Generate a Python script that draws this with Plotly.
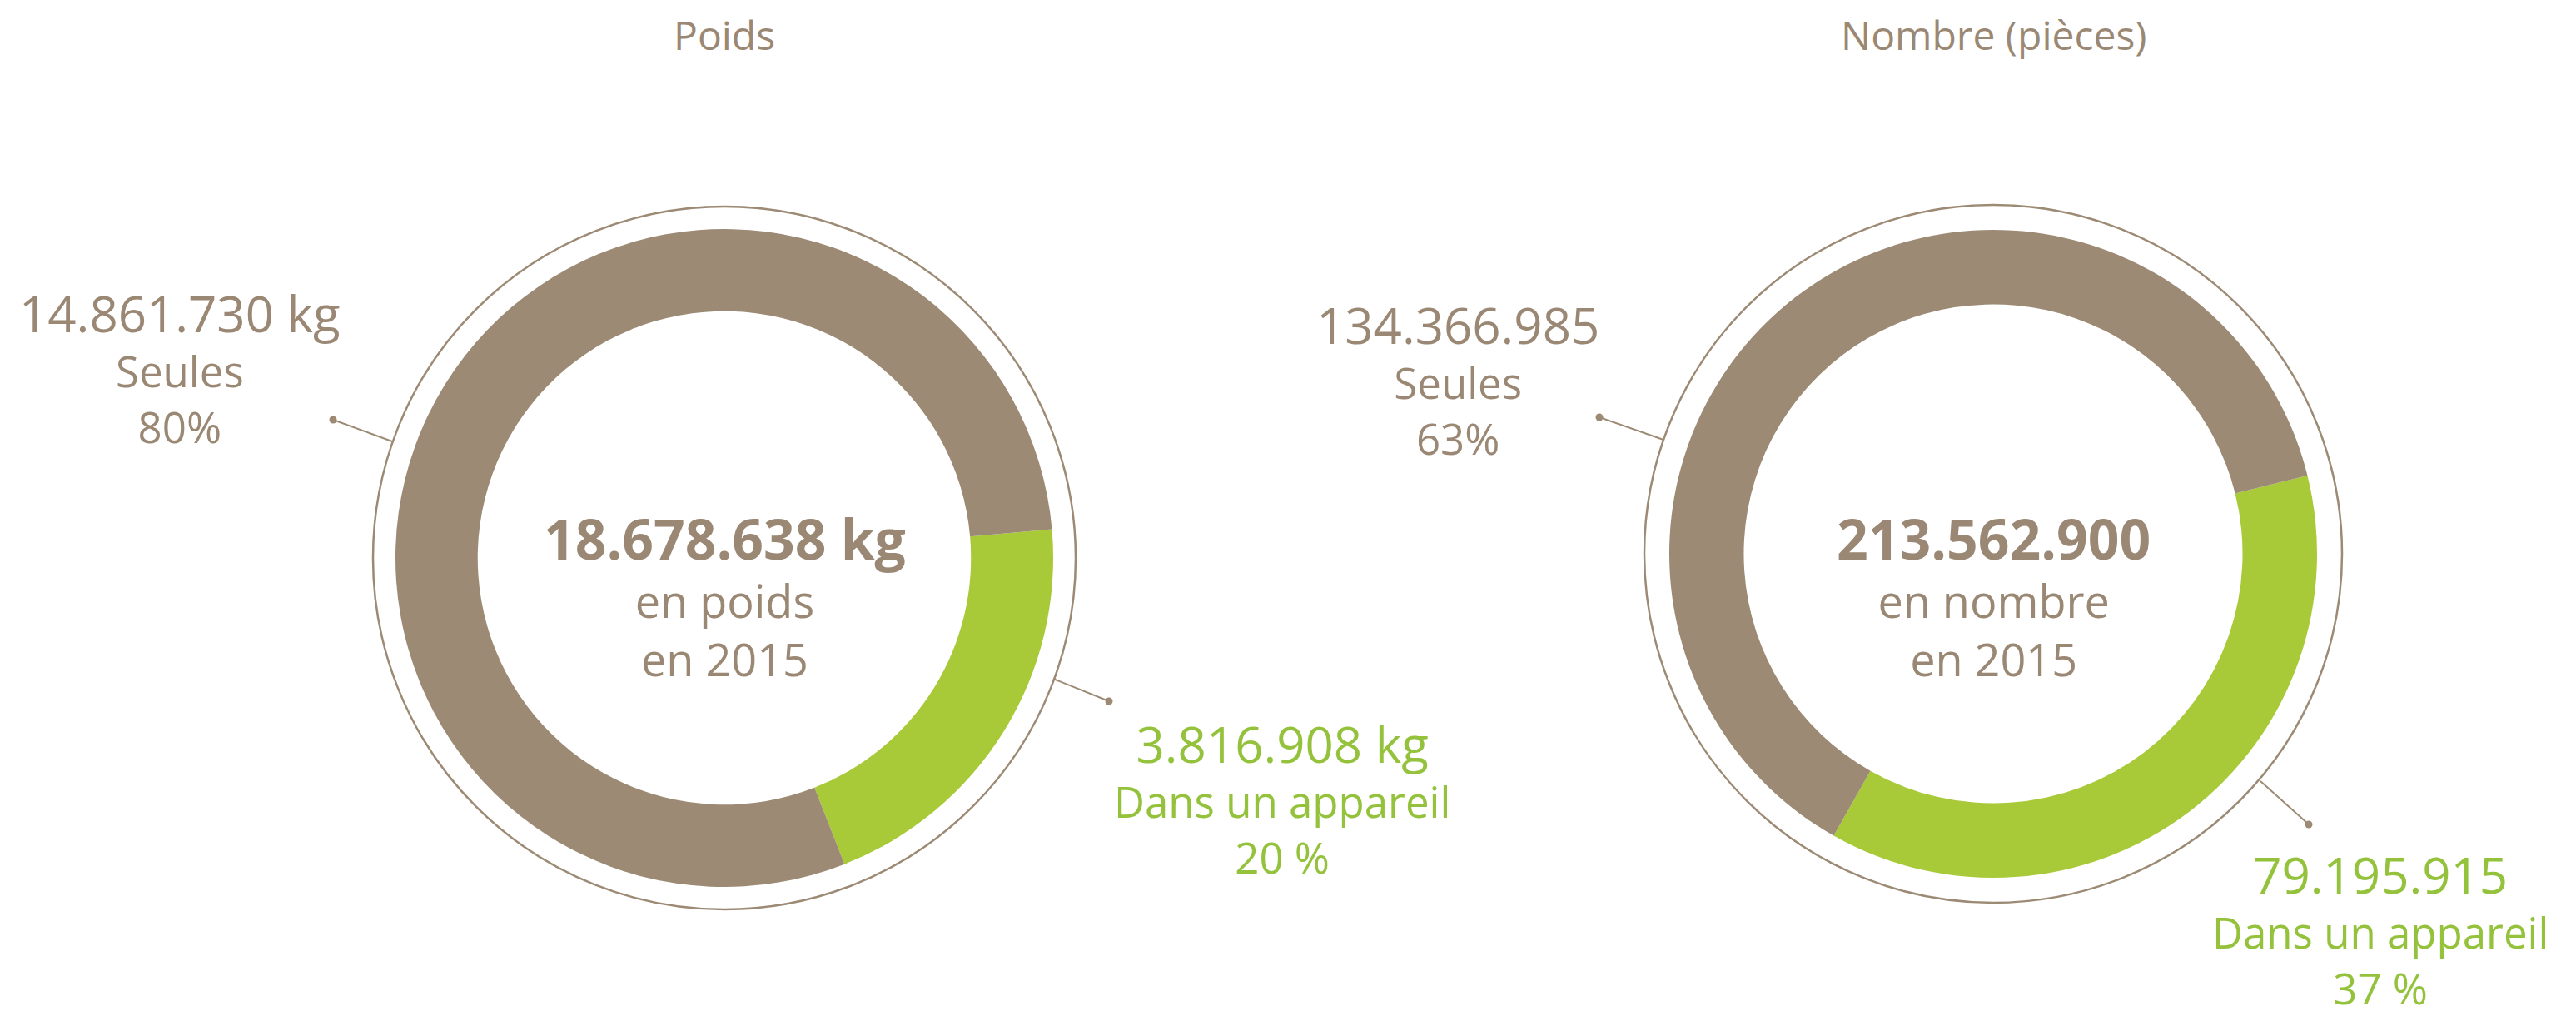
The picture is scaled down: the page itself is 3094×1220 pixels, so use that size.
import plotly.graph_objects as go

# Page body has an 8px margin: the figure starts at (8, 8), so every
# position below is given in page pixels and shifted by OFF.
PAGE_W, PAGE_H = 3094, 1220
OFF = 8
W, H = PAGE_W - OFF, PAGE_H - OFF

BROWN = "#9C8A75"
GREEN = "#A8C938"
GREEN_TXT = "#95C23D"
TEXT = "#9A8874"
FONT = "Open Sans"

# ---- data ----
categories = ["Dans un appareil", "Seules"]
poids_kg = [3816908, 14861730]
nombre_pieces = [79195915, 134366985]
pct_poids = ["20 %", "80%"]
pct_nombre = ["37 %", "63%"]
titles = ["Poids", "Nombre (pièces)"]
center_sub = ["en poids", "en nombre"]
year = 2015


def px(x):
    return (x - OFF) / W


def py(y):
    return 1 - (y - OFF) / H


def fmt(v):
    return f"{v:,}".replace(",", ".")


fig = go.Figure()
annotations = []
shapes = []


def label(x, mid_baseline, lines, first_size, size, color=TEXT, bold_first=False):
    # three lines in one annotation, line gap = 1.3 * size (plotly default)
    first = lines[0]
    if bold_first:
        first = f"<b>{first}</b>"
    first = f"<span style='font-size:{first_size}px'>{first}</span>"
    text = "<br>".join([first] + list(lines[1:]))
    # centre of the text box relative to the middle line's baseline
    centre = mid_baseline - (1.069 * first_size - 0.293 * size) / 2
    annotations.append(dict(
        text=text, x=px(x), y=py(centre),
        xref="paper", yref="paper", xanchor="center", yanchor="middle",
        align="center", showarrow=False, borderpad=0,
        font=dict(family=FONT, size=size, color=color),
    ))


def title(x, baseline, text, size):
    annotations.append(dict(
        text=text, x=px(x), y=py(baseline - 0.39 * size),
        xref="paper", yref="paper", xanchor="center", yanchor="middle",
        showarrow=False, borderpad=0,
        font=dict(family=FONT, size=size, color=TEXT),
    ))


def leader(x0, y0, x1, y1):
    # line from ring to label, dot at the label end (x1, y1)
    shapes.append(dict(type="line", xref="paper", yref="paper",
                       x0=px(x0), y0=py(y0), x1=px(x1), y1=py(y1),
                       line=dict(color=BROWN, width=2)))
    r = 4.5
    shapes.append(dict(type="circle", xref="paper", yref="paper",
                       x0=px(x1 - r), x1=px(x1 + r), y0=py(y1 + r), y1=py(y1 - r),
                       fillcolor=BROWN, line=dict(width=0)))


def ring(cx, cy, r):
    shapes.append(dict(type="circle", xref="paper", yref="paper",
                       x0=px(cx - r), x1=px(cx + r), y0=py(cy + r), y1=py(cy - r),
                       line=dict(color=BROWN, width=2.5)))


panels = [
    dict(values=poids_kg, unit=" kg", cx=870, cy=670, r=395,
         hole=0.75, rot=85, ring_r=422, title=titles[0], sub=center_sub[0]),
    dict(values=nombre_pieces, unit="", cx=2394, cy=665, r=389,
         hole=0.77, rot=76, ring_r=419, title=titles[1], sub=center_sub[1]),
]

for p in panels:
    cx, cy, r = p["cx"], p["cy"], p["r"]
    fig.add_trace(go.Pie(
        values=p["values"], labels=categories, sort=False,
        direction="clockwise", rotation=p["rot"], hole=p["hole"],
        marker=dict(colors=[GREEN, BROWN], line=dict(width=0)),
        textinfo="none", hoverinfo="label+value+percent", showlegend=False,
        domain=dict(x=[px(cx - r), px(cx + r)], y=[py(cy + r), py(cy - r)]),
    ))
    ring(cx, cy, p["ring_r"])

    title(cx, 60, p["title"], 48)
    total = sum(p["values"])
    label(cx, 742, [fmt(total) + p["unit"], p["sub"], f"en {year}"],
          66, 54, bold_first=True)

# left panel labels
green, brown = poids_kg
label(216, 466, [fmt(brown) + " kg", categories[1], pct_poids[1]], 60, 51)
label(1540, 983, [fmt(green) + " kg", categories[0], pct_poids[0]], 60, 51, GREEN_TXT)
leader(471, 530, 400, 504)
leader(1265, 815, 1332, 842)

# right panel labels
green, brown = nombre_pieces
label(1751, 480, [fmt(brown), categories[1], pct_nombre[1]], 60, 51)
label(2859, 1140, [fmt(green), categories[0], pct_nombre[0]], 60, 51, GREEN_TXT)
leader(1998, 528, 1921, 501)
leader(2715, 938, 2773, 990)

fig.update_layout(
    width=W, height=H,
    margin=dict(l=0, r=0, t=0, b=0),
    paper_bgcolor="white", plot_bgcolor="white",
    font=dict(family=FONT, color=TEXT),
    annotations=annotations, shapes=shapes,
)

fig.write_html("out.html")
